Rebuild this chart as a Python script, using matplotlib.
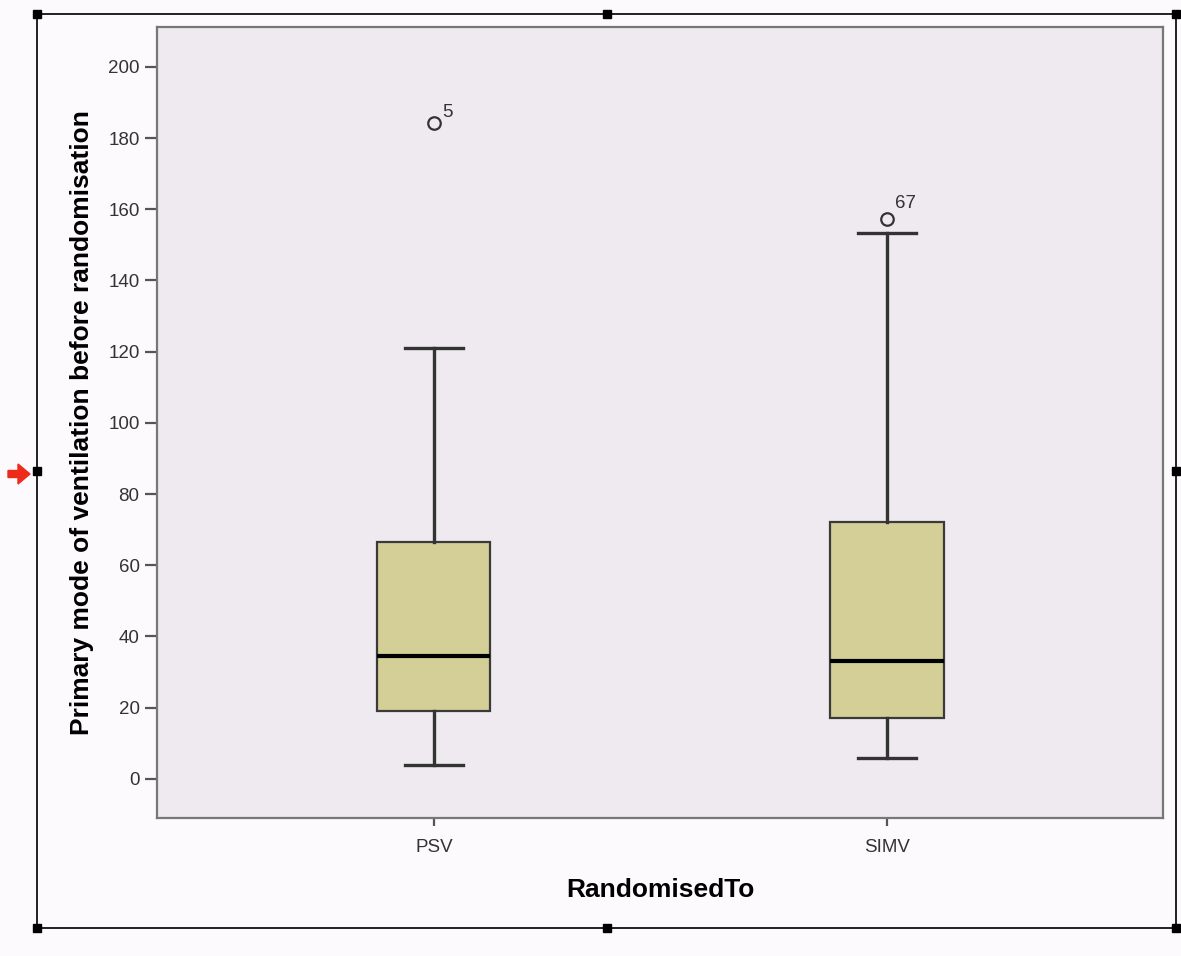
import matplotlib.pyplot as plt
from matplotlib.patches import Rectangle, FancyArrow

plt.rcParams['font.family'] = ['Liberation Sans', 'DejaVu Sans']

# data
groups = ['PSV', 'SIMV']
q1 = [19.1, 17.1]
med = [34.6, 33.1]
q3 = [66.6, 72.2]
whislo = [3.9, 5.9]
whishi = [121.1, 153.4]
outliers = [[184.3], [157.3]]
outlier_ids = [['5'], ['67']]
yticks = [0, 20, 40, 60, 80, 100, 120, 140, 160, 180, 200]

stats = []
for i, g in enumerate(groups):
    stats.append(dict(label=g, q1=q1[i], med=med[i], q3=q3[i],
                      whislo=whislo[i], whishi=whishi[i], fliers=outliers[i]))

fig = plt.figure(figsize=(11.81, 9.56), dpi=100)
fig.patch.set_facecolor('#fdfafd')
ax = fig.add_axes([0.1329, 0.1444, 0.8518, 0.8274])
ax.set_facecolor('#eeeaef')

pos = [1, 2]
ax.bxp(stats, positions=pos, widths=0.25, patch_artist=True,
       boxprops=dict(facecolor='#d3cf97', edgecolor='#3a3a3a', linewidth=1.6),
       whiskerprops=dict(color='#333333', linewidth=2.4),
       capprops=dict(color='#333333', linewidth=2.4),
       medianprops=dict(color='#000000', linewidth=3),
       flierprops=dict(marker='o', markersize=9, markerfacecolor='none',
                       markeredgecolor='#333333', markeredgewidth=1.6),
       capwidths=0.128)

for i, p in enumerate(pos):
    for v, lab in zip(outliers[i], outlier_ids[i]):
        off = (6, 4) if len(lab) == 1 else (6, 8)
        ax.annotate(lab, (p, v), xytext=off, textcoords='offset points',
                    fontsize=13.5, color='#333333')

ax.set_xlim(0.389, 2.609)
ax.set_ylim(-11.0, 211.2)
ax.set_yticks(yticks)
ax.set_xticks(pos)
ax.set_xticklabels(groups)
ax.tick_params(axis='both', colors='#555555', labelcolor='#333333',
               labelsize=13.5, length=9, width=1.6)
ax.tick_params(axis='x', length=6, pad=9)
for s in ax.spines.values():
    s.set_color('#777777')
    s.set_linewidth(1.6)

ax.set_ylabel('Primary mode of ventilation before randomisation',
              fontsize=19, fontweight='bold', labelpad=10)
ax.set_xlabel('RandomisedTo', fontsize=19, fontweight='bold', labelpad=16)

# outer selection frame with handles
W, H = 1181, 956
x0, y0, x1, y1 = 37 / W, 1 - 928 / H, 1176 / W, 1 - 14 / H
fig.add_artist(Rectangle((x0, y0), x1 - x0, y1 - y0, transform=fig.transFigure,
                         fill=False, edgecolor='#222222', linewidth=1.4))
xm, ym = (x0 + x1) / 2, (y0 + y1) / 2
hw, hh = 8 / W, 8 / H
for hx, hy in [(x0, y0), (xm, y0), (x1, y0), (x0, ym), (x1, ym),
               (x0, y1), (xm, y1), (x1, y1)]:
    fig.add_artist(Rectangle((hx - hw / 2, hy - hh / 2), hw, hh,
                             transform=fig.transFigure, color='black'))
fig.add_artist(FancyArrow(8 / W, 1 - 474 / H, 22 / W, 0, width=7 / H,
                          head_width=20 / H, head_length=12 / W,
                          length_includes_head=True, transform=fig.transFigure,
                          color='#ee2a1a'))

fig.savefig('out.png', dpi=100, facecolor=fig.get_facecolor())
